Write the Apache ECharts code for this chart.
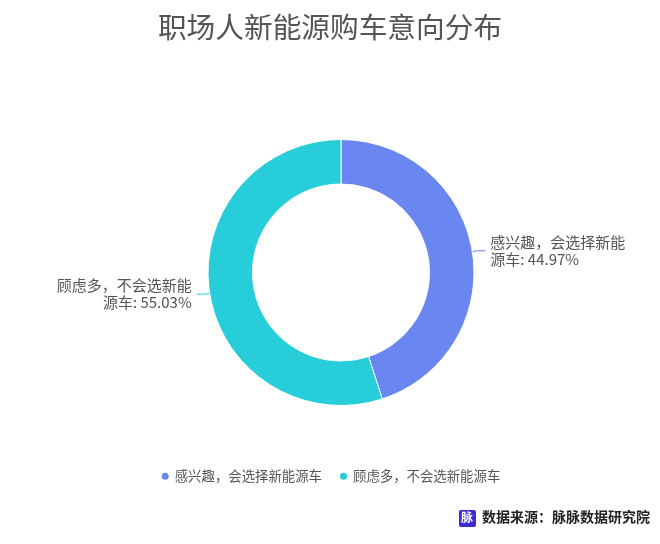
<!DOCTYPE html>
<html>
<head>
<meta charset="utf-8">
<script src="https://cdn.jsdelivr.net/npm/echarts@6/dist/echarts.min.js"></script>
<style>html,body{margin:0;padding:0;background:#fff}#c{width:660px;height:544px}</style>
</head>
<body>
<div id="c"></div>
<script>
const titleText = '职场人新能源购车意向分布';
const categories = ['感兴趣，会选择新能源车', '顾虑多，不会选新能源车'];
const values = [44.97, 55.03];
const colors = ['#6a86f1', '#27cdd8'];
const sourceText = '数据来源：脉脉数据研究院';
const sourceIcon = '脉';

const chart = echarts.init(document.getElementById('c'), null, {renderer: 'canvas'});
const font = '"Noto Sans CJK SC", "Noto Sans", sans-serif';
chart.setOption({
  backgroundColor: '#fff',
  animation: false,
  color: colors,
  title: {
    text: titleText,
    left: 'center',
    top: 8,
    textStyle: {fontSize: 28.7, fontWeight: 'normal', color: '#555', fontFamily: font}
  },
  legend: {
    bottom: 56,
    left: 'center',
    icon: 'circle',
    itemWidth: 9,
    itemHeight: 9,
    itemGap: 16,
    textStyle: {fontSize: 13.4, color: '#555', fontFamily: font},
    data: categories
  },
  series: [{
    type: 'pie',
    center: [341, 272.5],
    radius: [88.5, 133],
    startAngle: 90,
    clockwise: true,
    itemStyle: {borderColor: '#fff', borderWidth: 1},
    label: {
      formatter: '{b}: {d}%',
      fontSize: 15,
      lineHeight: 17,
      color: '#555',
      fontFamily: font,
      width: 140,
      overflow: 'break'
    },
    labelLine: {length: 5, length2: 8, lineStyle: {width: 1}},
    data: categories.map((c, i) => ({name: c, value: values[i]}))
  }],
  graphic: [
    {type: 'rect', left: 459, top: 510, shape: {width: 17, height: 17, r: 2}, style: {fill: '#3b2bd6'}},
    {type: 'text', left: 461, top: 511, style: {text: sourceIcon, fill: '#fff', font: 'bold 12px ' + font}},
    {type: 'text', left: 482, top: 510, style: {text: sourceText, fill: '#222', font: 'bold 14px ' + font}}
  ]
});
</script>
</body>
</html>
